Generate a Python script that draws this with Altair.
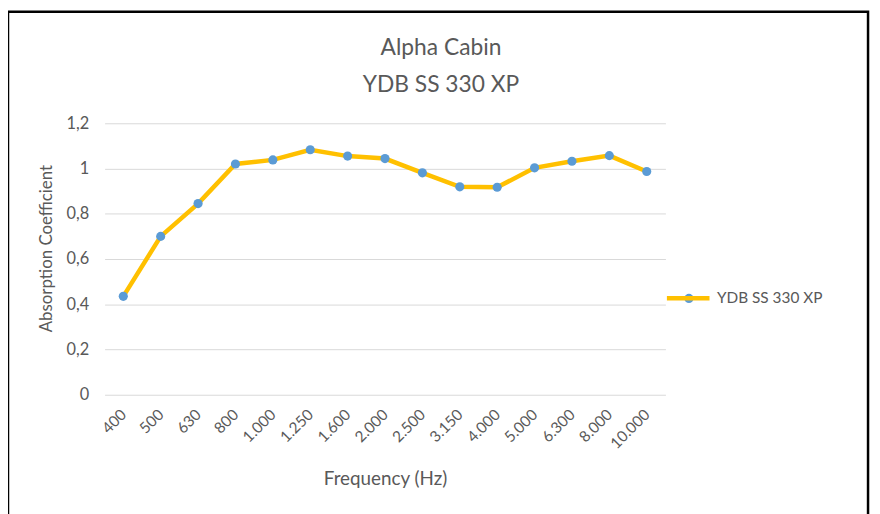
import altair as alt
import pandas as pd

freqs = ["400", "500", "630", "800", "1.000", "1.250", "1.600", "2.000",
         "2.500", "3.150", "4.000", "5.000", "6.300", "8.000", "10.000"]
alpha = [0.435, 0.70, 0.845, 1.02, 1.038, 1.083, 1.055, 1.044,
         0.981, 0.919, 0.917, 1.003, 1.032, 1.057, 0.987]
series_name = "YDB SS 330 XP"
chart_title = "Alpha Cabin"
y_ticks = [0, 0.2, 0.4, 0.6, 0.8, 1.0, 1.2]

df = pd.DataFrame({"freq": freqs, "alpha": alpha, "series": series_name})
one = pd.DataFrame({"k": [0]})

FONT = "Lato"
GREY = "#595959"
W, H = 566, 274

x_enc = alt.X("freq:N", sort=freqs, scale=alt.Scale(type="point", padding=0.5),
              axis=alt.Axis(title="Frequency (Hz)", labelAngle=315, labelAlign="right",
                            labelBaseline="middle", labelPadding=17, labelFontSize=15.5,
                            labelColor=GREY, labelFont=FONT, ticks=False, domain=False,
                            grid=False, titleFont=FONT, titleFontSize=19,
                            titleFontWeight="normal", titleColor=GREY,
                            titleY=85, titleBaseline="middle"))
y_enc = alt.Y("alpha:Q", scale=alt.Scale(domain=[0, 1.2], nice=False),
              axis=alt.Axis(title="Absorption Coefficient", values=y_ticks,
                            labelExpr="replace(format(datum.value, '.1~f'), '.', ',')",
                            labelFontSize=16.5, labelColor=GREY, labelFont=FONT,
                            labelPadding=16, ticks=False, domain=False,
                            gridColor="#D9D9D9", gridWidth=1,
                            titleFont=FONT, titleFontSize=17, titleFontWeight="normal",
                            titleColor=GREY, titleX=-59, titleY=126,
                            titleBaseline="middle"))

line = alt.Chart(df).mark_line(strokeWidth=4.5).encode(
    x=x_enc, y=y_enc,
    color=alt.Color("series:N", scale=alt.Scale(range=["#FFC000"]),
                    legend=alt.Legend(title=None, orient="none", legendX=565, legendY=152.5,
                                      symbolType="stroke", symbolSize=1849,
                                      symbolStrokeWidth=4.5, labelFontSize=15.5,
                                      labelColor=GREY, labelFont=FONT, labelOffset=5)),
)
points = alt.Chart(df).mark_point(filled=True, size=85, opacity=1).encode(
    x=alt.X("freq:N", sort=freqs), y="alpha:Q",
    fill=alt.Fill("series:N", scale=alt.Scale(range=["#5B9BD5"]),
                  legend=alt.Legend(title=None, orient="none", legendX=582, legendY=169,
                                    symbolType="circle", symbolSize=85,
                                    symbolStrokeWidth=0, symbolOpacity=1,
                                    labelExpr="''", labelFontSize=15.5,
                                    labelFont=FONT)),
)
frame = alt.Chart(one).mark_rect(fill=None, stroke="black", strokeWidth=2.5).encode(
    x=alt.value(-97.5), x2=alt.value(770.5), y=alt.value(-112.5), y2=alt.value(420)
)
title1 = alt.Chart(one).mark_text(text=chart_title, font=FONT, fontSize=23, color=GREY,
                                  align="center", baseline="alphabetic").encode(
    x=alt.value(339.5), y=alt.value(-69))
title2 = alt.Chart(one).mark_text(text=series_name, font=FONT, fontSize=23, color=GREY,
                                  align="center", baseline="alphabetic").encode(
    x=alt.value(339.5), y=alt.value(-32))

chart = alt.layer(line, points, frame, title1, title2).resolve_scale(
    color="independent").properties(
    width=W, height=H,
    autosize=alt.AutoSizeParams(type="none"),
    padding={"left": 97.5, "top": 114, "right": 208.5, "bottom": 118},
).configure_view(stroke=None)

chart.save("out.html", embed_options={"renderer": "svg", "actions": False})
